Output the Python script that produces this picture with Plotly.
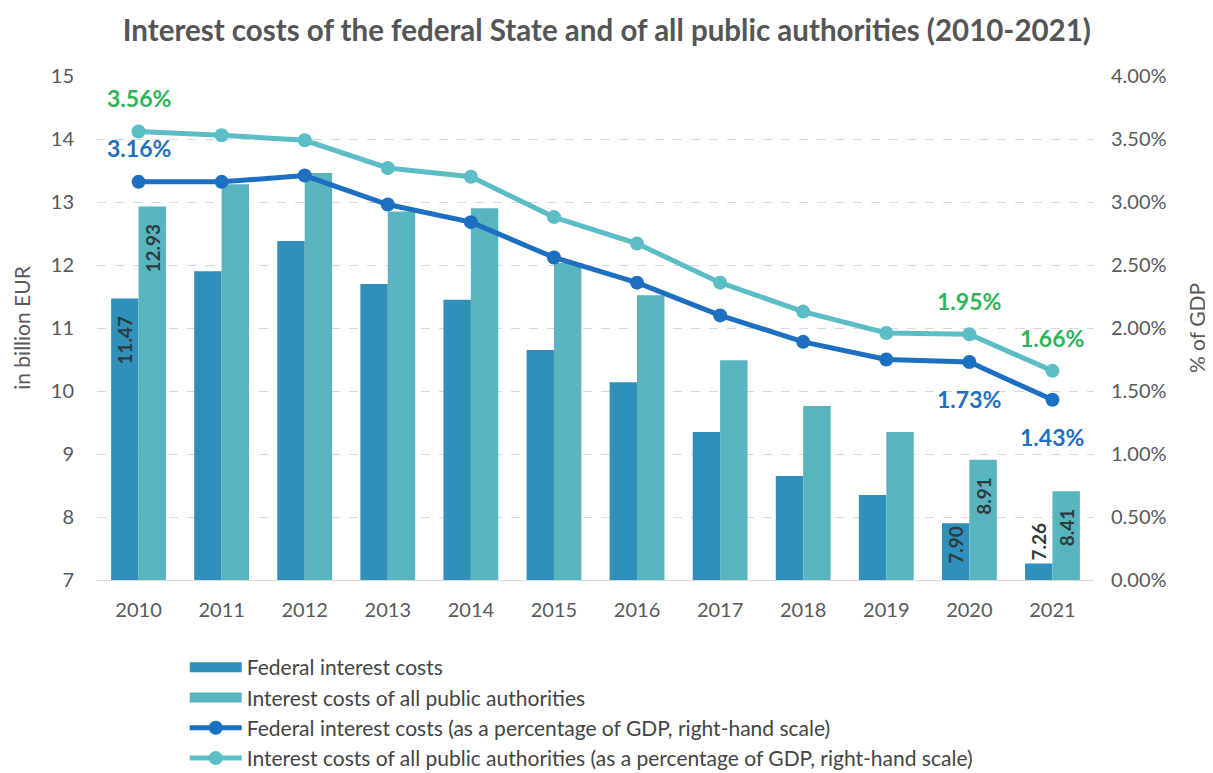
import plotly.graph_objects as go

years = ["2010", "2011", "2012", "2013", "2014", "2015", "2016", "2017", "2018", "2019", "2020", "2021"]
federal_costs = [11.47, 11.90, 12.38, 11.70, 11.45, 10.65, 10.14, 9.35, 8.65, 8.35, 7.90, 7.26]
all_costs = [12.93, 13.28, 13.46, 12.85, 12.90, 12.03, 11.52, 10.49, 9.76, 9.35, 8.91, 8.41]
federal_pct = [3.16, 3.16, 3.21, 2.98, 2.84, 2.56, 2.36, 2.10, 1.89, 1.75, 1.73, 1.43]
all_pct = [3.56, 3.53, 3.49, 3.27, 3.20, 2.88, 2.67, 2.36, 2.13, 1.96, 1.95, 1.66]

PAD = "\u00a0\u00a0\u00a0"
federal_labels = ["<b>11.47</b>" + PAD, "", "", "", "", "", "", "", "", "", "<b>7.90</b>", "<b>7.26</b>"]
all_labels = ["<b>12.93</b>" + PAD, "", "", "", "", "", "", "", "", "", "<b>8.91</b>" + PAD, "<b>8.41</b>" + PAD]

FONT = "Lato"
C_FED_BAR = "#3190BA"
C_ALL_BAR = "#58B5BF"
C_FED_LINE = "#1D6FC1"
C_ALL_LINE = "#5BBDC5"
C_GREEN = "#2DB35A"
C_BLUE = "#1F70C0"
LBL = "#2E3B3D"

fig = go.Figure()

fig.add_trace(go.Bar(
    x=years, y=federal_costs, name="Federal interest costs",
    marker=dict(color=C_FED_BAR, line=dict(width=0)),
    text=federal_labels, textangle=-90,
    textposition=["inside"] * 11 + ["outside"],
    insidetextanchor="end", constraintext="none",
    textfont=dict(family=FONT, size=19, color=LBL),
    outsidetextfont=dict(family=FONT, size=19, color=LBL),
    cliponaxis=False, showlegend=False, hoverinfo="skip",
))
fig.add_trace(go.Bar(
    x=years, y=all_costs, name="Interest costs of all public authorities",
    marker=dict(color=C_ALL_BAR, line=dict(width=0)),
    text=all_labels, textangle=-90, textposition="inside",
    insidetextanchor="end", constraintext="none",
    textfont=dict(family=FONT, size=19, color=LBL),
    showlegend=False, hoverinfo="skip",
))
fig.add_trace(go.Scatter(
    x=years, y=federal_pct, yaxis="y2", mode="lines+markers",
    name="Federal interest costs (as a percentage of GDP, right-hand scale)",
    line=dict(color=C_FED_LINE, width=5), marker=dict(size=14, color=C_FED_LINE),
    legendgroup="c", legendrank=3, hoverinfo="skip",
))
fig.add_trace(go.Scatter(
    x=years, y=all_pct, yaxis="y2", mode="lines+markers",
    name="Interest costs of all public authorities (as a percentage of GDP, right-hand scale)",
    line=dict(color=C_ALL_LINE, width=5), marker=dict(size=14, color=C_ALL_LINE),
    legendgroup="d", legendrank=4, hoverinfo="skip",
))
# legend-only entries drawn as wide blocks for the bar series
fig.add_trace(go.Scatter(
    x=[None], y=[None], mode="lines", name="Federal interest costs",
    line=dict(color=C_FED_BAR, width=13), legendgroup="a", legendrank=1, hoverinfo="skip",
))
fig.add_trace(go.Scatter(
    x=[None], y=[None], mode="lines", name="Interest costs of all public authorities",
    line=dict(color=C_ALL_BAR, width=13), legendgroup="b", legendrank=2, hoverinfo="skip",
))

ann = []
def pct_label(i, series, color, shift):
    ann.append(dict(x=i, y=series[i], xref="x", yref="y2",
                    text="<b>%.2f%%</b>" % series[i], showarrow=False,
                    yshift=shift, font=dict(family=FONT, size=23, color=color)))

pct_label(0, all_pct, C_GREEN, 33)
pct_label(0, federal_pct, C_BLUE, 34)
pct_label(10, all_pct, C_GREEN, 33)
pct_label(10, federal_pct, C_BLUE, -37)
pct_label(11, all_pct, C_GREEN, 33)
pct_label(11, federal_pct, C_BLUE, -37)

fig.update_layout(
    width=1205, height=765,
    paper_bgcolor="white", plot_bgcolor="white",
    margin=dict(l=89, r=119, t=68, b=193, autoexpand=False),
    barmode="group", bargap=0.34, bargroupgap=0,
    title=dict(text="<b>Interest costs of the federal State and of all public authorities (2010-2021)</b>",
               x=0.497, xanchor="center", y=0.971, yanchor="middle",
               font=dict(family=FONT, size=29.5, color="#555555")),
    font=dict(family=FONT, color="#595959"),
    xaxis=dict(type="category", range=[-0.5, 11.5], showgrid=False, showline=True,
               linecolor="#d9d9d9", linewidth=1, automargin=False,
               ticks="", tickfont=dict(size=20, color="#595959"), ticklabelstandoff=12),
    yaxis=dict(range=[7, 15], dtick=1, showgrid=True, gridcolor="#d9d9d9", griddash="dash",
               zeroline=False, ticks="", tickfont=dict(size=20, color="#595959"),
               ticklabelstandoff=22, automargin=False,
               title=dict(text="in billion EUR", font=dict(size=21, color="#595959"), standoff=14)),
    yaxis2=dict(range=[0, 4], dtick=0.5, overlaying="y", side="right", showgrid=False,
                zeroline=False, tickformat=".2f", ticksuffix="%", ticks="", automargin=False,
                tickfont=dict(size=20, color="#595959"), ticklabelstandoff=16,
                title=dict(text="% of GDP", font=dict(size=21, color="#595959"), standoff=24)),
    legend=dict(x=0.088, y=-0.133, xanchor="left", yanchor="top", orientation="v",
                font=dict(family=FONT, size=21, color="#444444"), tracegroupgap=0,
                itemwidth=52, bgcolor="rgba(0,0,0,0)", traceorder="grouped"),
    annotations=ann,
    showlegend=True,
)

fig.write_html("out.html")
